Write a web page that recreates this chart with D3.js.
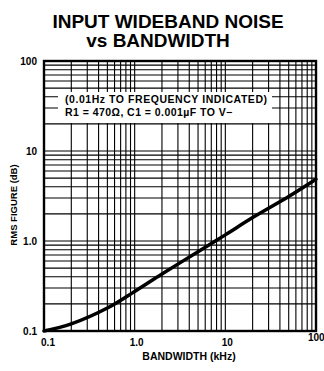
<!DOCTYPE html>
<html>
<head>
<meta charset="utf-8">
<script src="https://cdn.jsdelivr.net/npm/d3@7"></script>
<style>
  html, body { margin: 0; padding: 0; background: #fff; }
  svg { display: block; }
  text { font-family: "Liberation Sans", Arial, sans-serif; font-weight: bold; fill: #000; }
</style>
</head>
<body>
<svg id="chart" width="324" height="371"></svg>
<script>
// ---- data ----
const titleLines = ["INPUT WIDEBAND NOISE", "vs BANDWIDTH"];
const noteLines = ["(0.01Hz TO FREQUENCY INDICATED)", "R1 = 470\u03A9, C1 = 0.001\u00B5F TO V\u2212"];
const xLabel = "BANDWIDTH (kHz)";
const yLabel = "RMS FIGURE (dB)";
const bandwidthKHz = [0.1, 0.2, 0.5, 1, 2, 5, 10, 20, 50, 100];
const rmsFigure   = [0.1, 0.12, 0.18, 0.275, 0.43, 0.76, 1.17, 1.82, 3.12, 4.85];
const xTicks = [0.1, 1, 10, 100];
const xTickLabels = ["0.1", "1.0", "10", "100"];
const yTicks = [0.1, 1, 10, 100];
const yTickLabels = ["0.1", "1.0", "10", "100"];

// ---- layout ----
const L = 44, R = 316, T = 61, B = 331;
const svg = d3.select("#chart");
const x = d3.scaleLog().domain([0.1, 100]).range([L, R]);
const y = d3.scaleLog().domain([0.1, 100]).range([B, T]);

// grid values (1..9 per decade)
function gridVals(lo, hi) {
  const v = [];
  for (let d = lo; d < hi * 0.999; d *= 10) for (let m = 1; m < 10; m++) v.push(d * m);
  v.push(hi);
  return v;
}
const gx = gridVals(0.1, 100), gy = gridVals(0.1, 100);

const grid = svg.append("g").attr("stroke", "#000").attr("stroke-width", 1.1);
grid.selectAll("line.v").data(gx).join("line").attr("class", "v")
  .attr("x1", d => x(d)).attr("x2", d => x(d)).attr("y1", T).attr("y2", B);
grid.selectAll("line.h").data(gy).join("line").attr("class", "h")
  .attr("y1", d => y(d)).attr("y2", d => y(d)).attr("x1", L).attr("x2", R);

// note box (white background)
svg.append("rect").attr("x", 58).attr("y", 92).attr("width", 214).attr("height", 31).attr("fill", "#fff");
svg.append("text").attr("x", 65).attr("y", 103).attr("font-size", 10.5).attr("letter-spacing", 0.55).text(noteLines[0]);
svg.append("text").attr("x", 65).attr("y", 115.5).attr("font-size", 10.5).attr("letter-spacing", 0.45).text(noteLines[1]);

// frame
svg.append("rect").attr("x", L).attr("y", T).attr("width", R - L).attr("height", B - T)
  .attr("fill", "none").attr("stroke", "#000").attr("stroke-width", 2.4);

// curve
const line = d3.line().x(d => x(d[0])).y(d => y(d[1])).curve(d3.curveCatmullRom.alpha(0.5));
svg.append("path").datum(bandwidthKHz.map((b, i) => [b, rmsFigure[i]]))
  .attr("d", line).attr("fill", "none").attr("stroke", "#000").attr("stroke-width", 3.5)
  .attr("stroke-linecap", "round");

// tick labels
svg.selectAll("text.yt").data(yTicks).join("text").attr("class", "yt")
  .attr("x", 37).attr("y", d => y(d) + 3.5).attr("text-anchor", "end").attr("font-size", 10)
  .text((d, i) => yTickLabels[i]);
svg.selectAll("text.xt").data(xTicks).join("text").attr("class", "xt")
  .attr("x", (d, i) => i === 3 ? x(d) - 8 : x(d) + (i === 0 ? 4 : 2))
  .attr("y", (d, i) => i === 3 ? 341 : 346)
  .attr("text-anchor", (d, i) => i === 3 ? "start" : "middle").attr("font-size", 10)
  .text((d, i) => xTickLabels[i]);

// axis titles
svg.append("text").attr("x", 189).attr("y", 360).attr("text-anchor", "middle").attr("font-size", 10.5).text(xLabel);
svg.append("text").attr("transform", "translate(17,205) rotate(-90)").attr("text-anchor", "middle").attr("font-size", 9.5).text(yLabel);

// title
svg.append("text").attr("x", 168).attr("y", 28).attr("text-anchor", "middle").attr("font-size", 19).text(titleLines[0]);
svg.append("text").attr("x", 158).attr("y", 47).attr("text-anchor", "middle").attr("font-size", 19).text(titleLines[1]);
</script>
</body>
</html>
